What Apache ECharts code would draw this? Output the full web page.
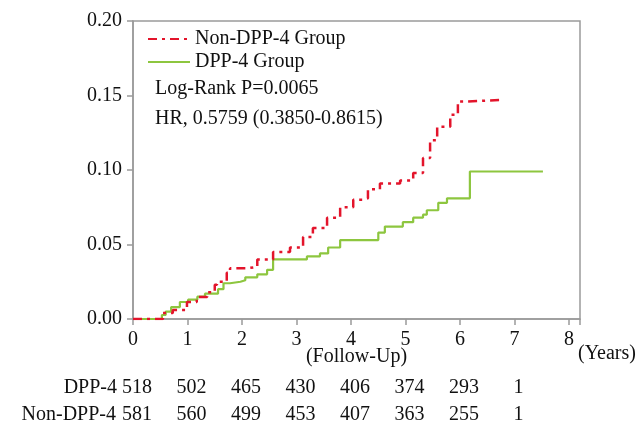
<!DOCTYPE html>
<html><head><meta charset="utf-8">
<script src="https://cdn.jsdelivr.net/npm/echarts@6/dist/echarts.min.js"></script>
<style>html,body{margin:0;padding:0;background:#fff}#c{width:638px;height:426px}</style>
</head><body><div id="c"></div>
<script>
// Cumulative incidence (step at each time point)
const nonDppTimes  = [0, 0.5, 0.55, 0.73, 0.99, 1.17, 1.36, 1.50, 1.54, 1.72, 1.78, 2.09, 2.28, 2.57, 2.88, 3.12, 3.30, 3.56, 3.80, 4.04, 4.22, 4.31, 4.53, 4.90, 5.14, 5.32, 5.45, 5.58, 5.82, 5.96, 6.13, 6.73];
const nonDppValues = [0, 0, 0.004, 0.006, 0.0114, 0.0148, 0.018, 0.023, 0.025, 0.031, 0.034, 0.035, 0.040, 0.045, 0.048, 0.055, 0.061, 0.068, 0.075, 0.080, 0.081, 0.087, 0.091, 0.093, 0.098, 0.108, 0.120, 0.129, 0.137, 0.146, 0.147, 0.147];
const dppTimes  = [0, 0.53, 0.60, 0.70, 0.86, 1.01, 1.18, 1.32, 1.56, 1.66, 1.78, 1.97, 2.06, 2.28, 2.46, 2.57, 3.19, 3.43, 3.58, 3.80, 4.50, 4.62, 4.95, 5.14, 5.32, 5.39, 5.60, 5.76, 6.18, 7.52];
const dppValues = [0, 0.0027, 0.005, 0.008, 0.0114, 0.013, 0.015, 0.017, 0.020, 0.024, 0.025, 0.026, 0.028, 0.030, 0.033, 0.040, 0.042, 0.044, 0.048, 0.053, 0.058, 0.062, 0.065, 0.068, 0.070, 0.073, 0.078, 0.081, 0.099, 0.099];
const riskTimes = [0, 1, 2, 3, 4, 5, 6, 7];
const riskDpp    = [518, 502, 465, 430, 406, 374, 293, 1];
const riskNonDpp = [581, 560, 499, 453, 407, 363, 255, 1];
const seriesNames = ['Non-DPP-4 Group', 'DPP-4 Group'];
const rowNames = ['DPP-4', 'Non-DPP-4'];
const annotations = ['Log-Rank P=0.0065', 'HR, 0.5759 (0.3850-0.8615)'];

const FONT = "'Liberation Serif', 'DejaVu Serif', serif";
const FS = 20;
const RED = '#e3142b', GREEN = '#8dc63f', AX = '#9a9a9a';
const zip = (a, b) => a.map((t, i) => [t, b[i]]);
const riskLabel = (arr) => (v) => { const i = riskTimes.indexOf(v); return i >= 0 ? String(arr[i]) : ''; };

const chart = echarts.init(document.getElementById('c'), null, {renderer: 'canvas'});
const riskAxis = (arr, off) => ({
  type: 'value', min: 0, max: 8.2, interval: 1, position: 'bottom', offset: off,
  axisLine: {show: false}, axisTick: {show: false}, splitLine: {show: false},
  axisLabel: {formatter: riskLabel(arr), color: '#111', fontFamily: FONT, fontSize: FS, margin: 0, padding: [0, 0, 0, 8]}
});
chart.setOption({
  animation: false,
  grid: {left: 133, right: 58, top: 21, bottom: 107, show: true, borderColor: AX, borderWidth: 1.5, backgroundColor: '#fff'},
  legend: {
    orient: 'vertical', left: 142, top: 24, itemGap: 3, itemWidth: 42, itemHeight: 20,
    itemStyle: {opacity: 0},
    textStyle: {fontFamily: FONT, fontSize: FS, color: '#111'},
    data: seriesNames
  },
  xAxis: [{
    type: 'value', min: 0, max: 8.2, interval: 1,
    name: '(Follow-Up)', nameLocation: 'middle', nameGap: 28, nameMoveOverlap: false,
    nameTextStyle: {fontFamily: FONT, fontSize: FS, color: '#111', verticalAlign: 'top'},
    axisLine: {lineStyle: {color: AX, width: 1.5}},
    axisTick: {show: true, length: 6, lineStyle: {color: AX, width: 1.5}},
    splitLine: {show: false},
    axisLabel: {formatter: v => Number.isInteger(v) ? String(v) : '', color: '#111', fontFamily: FONT, fontSize: FS, margin: 11}
  }, riskAxis(riskDpp, 59), riskAxis(riskNonDpp, 86)],
  yAxis: {
    type: 'value', min: 0, max: 0.2, interval: 0.05,
    axisLine: {show: true, lineStyle: {color: AX, width: 1.5}},
    axisTick: {show: true, length: 6, lineStyle: {color: AX, width: 1.5}},
    splitLine: {show: false},
    axisLabel: {formatter: v => v.toFixed(2), color: '#111', fontFamily: FONT, fontSize: FS, margin: 11}
  },
  series: [{
    name: seriesNames[0], type: 'line', step: 'end', symbol: 'none', data: zip(nonDppTimes, nonDppValues),
    lineStyle: {color: RED, width: 2.5, type: [9, 5, 3, 5]}, itemStyle: {color: RED}, z: 3
  }, {
    name: seriesNames[1], type: 'line', step: 'end', symbol: 'none', data: zip(dppTimes, dppValues),
    lineStyle: {color: GREEN, width: 2.2}, itemStyle: {color: GREEN}, z: 2
  }],
  graphic: [
    {type: 'text', x: 155, y: 89, style: {text: annotations[0], font: `${FS}px ${FONT}`, fill: '#111', verticalAlign: 'middle'}},
    {type: 'text', x: 155, y: 119, style: {text: annotations[1], font: `${FS}px ${FONT}`, fill: '#111', verticalAlign: 'middle'}},
    {type: 'text', x: 578, y: 354, style: {text: '(Years)', font: `${FS}px ${FONT}`, fill: '#111', verticalAlign: 'middle'}},
    {type: 'text', x: 117, y: 388, style: {text: rowNames[0], font: `${FS}px ${FONT}`, fill: '#111', align: 'right', verticalAlign: 'middle'}},
    {type: 'text', x: 116, y: 415, style: {text: rowNames[1], font: `${FS}px ${FONT}`, fill: '#111', align: 'right', verticalAlign: 'middle'}}
  ]
});
</script></body></html>
